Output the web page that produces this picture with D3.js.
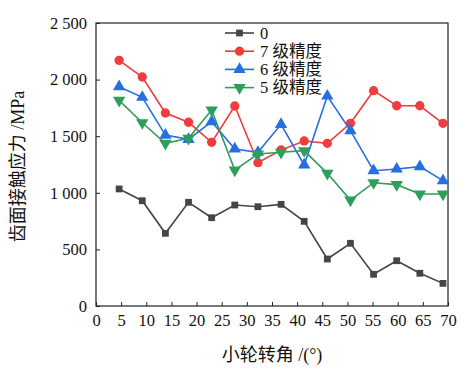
<!DOCTYPE html>
<html><head><meta charset="utf-8">
<script src="https://cdn.jsdelivr.net/npm/d3@7"></script>
<style>body{margin:0;background:#fff}</style>
</head><body>
<script>
const angles = [4.6, 9.2, 13.8, 18.4, 23, 27.6, 32.2, 36.8, 41.4, 46, 50.6, 55.2, 59.8, 64.4, 69];
const s0 = [1034, 930, 642, 916, 780, 892, 877, 898, 748, 415, 554, 280, 400, 289, 200];
const s7 = [2170, 2023, 1705, 1623, 1446, 1767, 1266, 1378, 1458, 1437, 1614, 1902, 1769, 1769, 1614];
const s6 = [1937, 1844, 1510, 1472, 1628, 1387, 1358, 1605, 1246, 1855, 1549, 1195, 1210, 1231, 1107];
const s5 = [1817, 1619, 1437, 1481, 1731, 1201, 1343, 1358, 1372, 1172, 936, 1089, 1072, 989, 989];
const seriesNames = ["0", "7 级精度", "6 级精度", "5 级精度"];
const xTicks = [0,5,10,15,20,25,30,35,40,45,50,55,60,65,70];
const yTicks = [0,500,1000,1500,2000,2500];
const yTickLabels = ["0","500","1 000","1 500","2 000","2 500"];
const xTitle = "小轮转角 /(°)";
const yTitle = "齿面接触应力 /MPa";

const colors = ["#454545", "#f03c3c", "#2470e0", "#2e9e5a"];
const symbols = [d3.symbolSquare, d3.symbolCircle, d3.symbolTriangle, d3.symbolTriangle];
const rot = [0,0,0,180];
const sizes = [46, 68, 66, 66];
const data = [s0, s7, s6, s5];

const W = 461, H = 375;
const m = {l:96, r:13, t:23, b:69};
const svg = d3.select("body").append("svg").attr("width", W).attr("height", H);
const x = d3.scaleLinear().domain([0,70]).range([m.l, W-m.r]);
const y = d3.scaleLinear().domain([0,2500]).range([H-m.b, m.t]);
const font = "'Liberation Serif','Noto Sans CJK SC',serif";

svg.append("rect").attr("x", m.l).attr("y", m.t).attr("width", W-m.r-m.l).attr("height", H-m.b-m.t)
  .attr("fill","none").attr("stroke","#222").attr("stroke-width",1.2);

const xa = svg.append("g").attr("transform", `translate(0,${H-m.b})`)
  .call(d3.axisBottom(x).tickValues(xTicks).tickSizeInner(-4).tickSizeOuter(0).tickPadding(8));
xa.select(".domain").remove();
xa.selectAll("line").attr("stroke","#222");
xa.selectAll("text").attr("font-family", font).attr("font-size", 16.5).attr("fill","#111");

const ya = svg.append("g").attr("transform", `translate(${m.l},0)`)
  .call(d3.axisLeft(y).tickValues(yTicks).tickFormat((d,i)=>yTickLabels[i]).tickSizeInner(-4).tickSizeOuter(0).tickPadding(9));
ya.select(".domain").remove();
ya.selectAll("line").attr("stroke","#222");
ya.selectAll("text").attr("font-family", font).attr("font-size", 16.5).attr("fill","#111");

svg.append("text").attr("x", 272).attr("y", 361).attr("text-anchor","middle")
  .attr("font-family", font).attr("font-size", 18).attr("fill","#111").text(xTitle);
svg.append("text").attr("transform", `translate(24,${(m.t+H-m.b)/2+2}) rotate(-90)`).attr("text-anchor","middle")
  .attr("font-family", font).attr("font-size", 18).attr("fill","#111").text(yTitle);

const line = d3.line().x((d,i)=>x(angles[i])).y(d=>y(d));
data.forEach((s, k) => {
  const g = svg.append("g");
  g.append("path").attr("d", line(s)).attr("fill","none").attr("stroke", colors[k]).attr("stroke-width", 1.6);
  g.selectAll("path.m").data(s).enter().append("path").attr("class","m")
    .attr("d", d3.symbol().type(symbols[k]).size(sizes[k]))
    .attr("transform", (d,i)=>`translate(${x(angles[i])},${y(d)}) rotate(${rot[k]})`)
    .attr("fill", colors[k]);
});

const lg = svg.append("g");
seriesNames.forEach((n, k) => {
  const ly = 33 + k*18.2;
  lg.append("line").attr("x1", 225).attr("x2", 254).attr("y1", ly).attr("y2", ly).attr("stroke", colors[k]).attr("stroke-width", 1.6);
  lg.append("path").attr("d", d3.symbol().type(symbols[k]).size(sizes[k]))
    .attr("transform", `translate(239.5,${ly}) rotate(${rot[k]})`).attr("fill", colors[k]);
  lg.append("text").attr("x", 260).attr("y", ly+5.5).attr("font-family", font).attr("font-size", 16.5).attr("fill","#111").text(n);
});
</script>
</body></html>
